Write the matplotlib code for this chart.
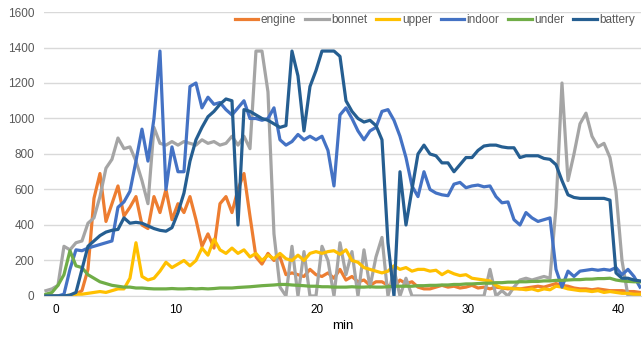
import matplotlib.pyplot as plt
import numpy as np

plt.rcParams['font.family'] = ['Liberation Sans', 'DejaVu Sans']

# sensor temperatures, sampled at equal steps along the category axis
engine = [0, 0, 0, 0, 0, 10, 30, 150, 550, 690,
          420, 520, 620, 450, 500, 560, 400, 380, 560, 470,
          600, 430, 520, 470, 560, 430, 280, 350, 270, 520,
          560, 470, 600, 690, 450, 220, 180, 240, 200, 220,
          120, 130, 120, 110, 150, 120, 110, 130, 100, 150,
          90, 110, 80, 90, 60, 80, 80, 60, 50, 90,
          70, 80, 50, 40, 40, 50, 60, 50, 55, 45,
          50, 60, 45, 50, 40, 50, 45, 40, 45, 40,
          45, 50, 55, 50, 60, 70, 60, 55, 45, 40,
          40, 35, 40, 35, 30, 30, 30, 25, 25, 20]
bonnet = [30, 40, 60, 280, 260, 300, 310, 410, 440, 560,
          720, 770, 890, 830, 840, 760, 650, 520, 950, 860,
          850, 870, 850, 870, 860, 850, 880, 860, 870, 850,
          860, 900, 850, 900, 830, 1380, 1380, 1150, 350, 50,
          0, 280, 0, 250, 0, 0, 280, 200, 0, 300,
          120, 250, 0, 260, 50, 220, 330, 0, 150, 0,
          100, 0, 0, 0, 0, 0, 0, 0, 0, 0,
          0, 0, 0, 0, 150, 0, 30, 0, 50, 90,
          100, 90, 100, 110, 100, 500, 1200, 650, 800, 970,
          1030, 900, 840, 860, 780, 590, 200, 0, 0, 0]
upper = [0, 0, 0, 0, 5, 10, 10, 15, 20, 25,
         20, 30, 40, 40, 100, 300, 110, 90, 100, 140,
         190, 160, 180, 200, 170, 200, 270, 230, 320, 260,
         240, 270, 240, 260, 220, 240, 200, 230, 210, 240,
         210, 200, 230, 200, 240, 250, 240, 250, 255, 235,
         260, 200, 190, 160, 150, 140, 130, 140, 170, 150,
         160, 140, 150, 150, 140, 145, 120, 140, 125, 115,
         120, 100, 95, 90, 85, 60, 45, 45, 40, 40,
         35, 40, 30, 40, 35, 55, 50, 40, 35, 30,
         30, 25, 30, 20, 25, 20, 15, 15, 10, 10]
indoor = [0, 0, 0, 10, 150, 260, 255, 270, 280, 290,
          300, 310, 500, 530, 590, 760, 940, 760, 1000, 1380,
          600, 840, 700, 700, 1180, 1200, 1060, 1120, 1080, 1090,
          1050, 1020, 1060, 1100, 1000, 1000, 990, 1000, 1060, 880,
          850, 870, 910, 880, 900, 880, 900, 820, 620, 1020,
          1060, 1000, 930, 880, 930, 950, 1040, 1050, 990, 900,
          780, 620, 560, 700, 600, 580, 570, 565, 630, 640,
          610, 620, 625, 615, 620, 560, 525, 530, 430, 400,
          470, 440, 420, 430, 440, 150, 50, 140, 110, 140,
          145, 150, 145, 150, 145, 160, 120, 150, 110, 50]
under = [10, 20, 60, 120, 255, 170, 160, 120, 100, 80,
         70, 60, 55, 50, 50, 45, 45, 42, 40, 40,
         40, 42, 40, 40, 42, 40, 42, 40, 42, 45,
         45, 45, 48, 50, 52, 55, 58, 60, 62, 65,
         65, 62, 60, 58, 55, 55, 52, 52, 50, 50,
         50, 52, 50, 50, 52, 50, 50, 52, 55, 55,
         55, 55, 58, 58, 60, 60, 62, 62, 65, 65,
         68, 68, 70, 72, 72, 75, 75, 78, 78, 80,
         80, 82, 82, 85, 85, 88, 88, 90, 92, 92,
         95, 95, 98, 98, 100, 90, 85, 82, 80, 80]
battery = [0, 0, 0, 0, 5, 20, 150, 280, 310, 340,
           360, 370, 375, 440, 410, 415, 410, 395, 380, 370,
           365, 385, 470, 580, 760, 880, 950, 1010, 1040, 1080,
           1110, 1100, 400, 1050, 1040, 1020, 1000, 990, 970, 950,
           960, 1380, 1240, 930, 1180, 1270, 1380, 1380, 1380, 1350,
           1100, 1040, 1000, 980, 990, 960, 880, 300, 0, 700,
           400, 600, 800, 850, 800, 790, 750, 750, 700, 740,
           780, 780, 820, 845, 850, 850, 840, 835, 835, 780,
           790, 790, 790, 775, 770, 740, 650, 570, 555, 550,
           550, 550, 550, 550, 540, 130, 100, 100, 90, 85]

series = [('engine', engine, '#ED7D31'),
          ('bonnet', bonnet, '#A5A5A5'),
          ('upper', upper, '#FFC000'),
          ('indoor', indoor, '#4472C4'),
          ('under', under, '#70AD47'),
          ('battery', battery, '#255E91')]

tick_pos = [1.67, 21.67, 45.17, 70.33, 95.33]
tick_lab = ['0', '10', '20', '30', '40']

fig = plt.figure(figsize=(6.43, 3.41), dpi=100)
ax = fig.add_axes([0.0684, 0.132, 0.9285, 0.8328])

x = np.arange(len(engine))
for name, vals, col in series:
    ax.plot(x, vals, color=col, lw=2.3, label=name, solid_joinstyle='round')

ax.set_xlim(-0.33, 99.17)
ax.set_ylim(0, 1600)
ax.set_yticks(range(0, 1601, 200))
ax.set_xticks(tick_pos)
ax.set_xticklabels(tick_lab)
ax.grid(axis='y', color='#D9D9D9', lw=1)
ax.set_axisbelow(True)
for s in ['top', 'right', 'left']:
    ax.spines[s].set_visible(False)
ax.spines['bottom'].set_color('#D9D9D9')
ax.tick_params(axis='both', length=0, labelsize=8.5)
ax.tick_params(axis='y', pad=7, labelcolor='#595959')
ax.tick_params(axis='x', pad=6, labelcolor='#000000')
ax.set_xlabel('min', fontsize=9.5, labelpad=3)

fig.legend(loc='center right', bbox_to_anchor=(0.995, 0.94), ncol=6,
           frameon=False, fontsize=8.5, handlelength=2.0, handletextpad=0.2,
           columnspacing=0.75, borderaxespad=0, labelcolor='#595959')

fig.savefig('out.png', dpi=100)
